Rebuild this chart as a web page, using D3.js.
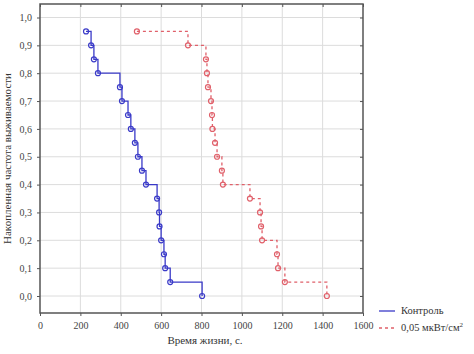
<!DOCTYPE html>
<html>
<head>
<meta charset="utf-8">
<script src="https://cdn.jsdelivr.net/npm/d3@7"></script>
<style>
  body { margin: 0; background: #fff; }
  #chart text { font-family: "Liberation Serif", serif; }
</style>
</head>
<body>
<svg id="chart"></svg>
<script>
// survival times, s
const controlTimes = [228, 253, 267, 287, 396, 406, 436, 450, 470, 485, 505, 525, 580, 590, 592, 600, 614, 620, 645, 803];
const controlSurv = [0.95, 0.9, 0.85, 0.8, 0.75, 0.7, 0.65, 0.6, 0.55, 0.5, 0.45, 0.4, 0.35, 0.3, 0.25, 0.2, 0.15, 0.1, 0.05, 0.0];
const exposedTimes = [480, 733, 822, 827, 832, 847, 852, 854, 867, 877, 901, 906, 1040, 1090, 1095, 1100, 1174, 1179, 1213, 1421];
const exposedSurv = [0.95, 0.9, 0.85, 0.8, 0.75, 0.7, 0.65, 0.6, 0.55, 0.5, 0.45, 0.4, 0.35, 0.3, 0.25, 0.2, 0.15, 0.1, 0.05, 0.0];
const xTicks = [0, 200, 400, 600, 800, 1000, 1200, 1400, 1600];
const yTicks = [0, 0.1, 0.2, 0.3, 0.4, 0.5, 0.6, 0.7, 0.8, 0.9, 1.0];
const seriesNames = ["Контроль", "0,05 мкВт/см"];

const width = 474, height = 354;
const frame = { left: 40, right: 363, top: 4, bottom: 313 };

const blue = "#3a3ac8";
const red = "#e0606a";
const gridColor = "#dcdcdc";

const svg = d3.select("#chart").attr("width", width).attr("height", height);

const x = d3.scaleLinear().domain([0, 1600]).range([frame.left, frame.right]);
const y = d3.scaleLinear().domain([0, 1]).range([296, 17.5]);

const fmt = d => d3.format(".1f")(d).replace(".", ",");

// grid
svg.append("g").selectAll("line").data(xTicks.slice(1, -1)).enter().append("line")
  .attr("x1", d => x(d)).attr("x2", d => x(d))
  .attr("y1", frame.top).attr("y2", frame.bottom)
  .attr("stroke", gridColor).attr("stroke-width", 1);
svg.append("g").selectAll("line").data(yTicks).enter().append("line")
  .attr("x1", frame.left).attr("x2", frame.right)
  .attr("y1", d => y(d)).attr("y2", d => y(d))
  .attr("stroke", gridColor).attr("stroke-width", 1);

// axes
const xAxis = d3.axisBottom(x).tickValues(xTicks).tickSize(3).tickPadding(6).tickFormat(d3.format("d"));
const yAxis = d3.axisLeft(y).tickValues(yTicks).tickSize(3).tickPadding(5).tickFormat(fmt);

svg.append("g").attr("transform", "translate(0," + frame.bottom + ")").call(xAxis);
svg.append("g").attr("transform", "translate(" + frame.left + ",0)").call(yAxis);
// inner ticks on top and right
svg.append("g").attr("transform", "translate(0," + frame.top + ")")
  .call(d3.axisTop(x).tickValues(xTicks).tickSize(-3).tickFormat(""));
svg.append("g").attr("transform", "translate(" + frame.right + ",0)")
  .call(d3.axisRight(y).tickValues(yTicks).tickSize(-3).tickFormat(""));

svg.selectAll(".domain").remove();
svg.selectAll(".tick line").attr("stroke", "#555");
svg.selectAll(".tick text").attr("font-size", 10).attr("fill", "#444");

svg.append("rect")
  .attr("x", frame.left).attr("y", frame.top)
  .attr("width", frame.right - frame.left).attr("height", frame.bottom - frame.top)
  .attr("fill", "none").attr("stroke", "#555").attr("stroke-width", 1.5);

// curves
const line = d3.line().x(d => x(d[0])).y(d => y(d[1])).curve(d3.curveStepAfter);

function drawSeries(times, surv, color, dashed) {
  const pts = times.map((t, i) => [t, surv[i]]);
  svg.append("path").datum(pts)
    .attr("d", line)
    .attr("fill", "none")
    .attr("stroke", color)
    .attr("stroke-width", 1.3)
    .attr("stroke-dasharray", dashed ? "3,3" : null);
  svg.append("g").selectAll("circle").data(pts).enter().append("circle")
    .attr("cx", d => x(d[0])).attr("cy", d => y(d[1]))
    .attr("r", 2.5)
    .attr("fill", "none")
    .attr("stroke", color)
    .attr("stroke-width", 1.2);
}

drawSeries(controlTimes, controlSurv, blue, false);
drawSeries(exposedTimes, exposedSurv, red, true);

// axis titles
svg.append("text")
  .attr("x", 205).attr("y", 344)
  .attr("text-anchor", "middle").attr("font-size", 11).attr("fill", "#333")
  .text("Время жизни, с.");
svg.append("text")
  .attr("transform", "translate(11," + (frame.top + frame.bottom) / 2 + ") rotate(-90)")
  .attr("text-anchor", "middle").attr("font-size", 11).attr("fill", "#333")
  .text("Накопленная частота выживаемости");

// legend
const legend = svg.append("g").attr("fill", "#333");
legend.append("line").attr("x1", 379).attr("x2", 395).attr("y1", 311).attr("y2", 311)
  .attr("stroke", blue).attr("stroke-width", 1.3);
legend.append("text").attr("x", 401).attr("y", 314).attr("font-size", 10.5).text(seriesNames[0]);
legend.append("line").attr("x1", 379).attr("x2", 395).attr("y1", 328).attr("y2", 328)
  .attr("stroke", red).attr("stroke-width", 1.3).attr("stroke-dasharray", "3,3");
const t2 = legend.append("text").attr("x", 401).attr("y", 331).attr("font-size", 10.5).text(seriesNames[1]);
t2.append("tspan").attr("dy", -4).attr("font-size", 7).text("2");
</script>
</body>
</html>
